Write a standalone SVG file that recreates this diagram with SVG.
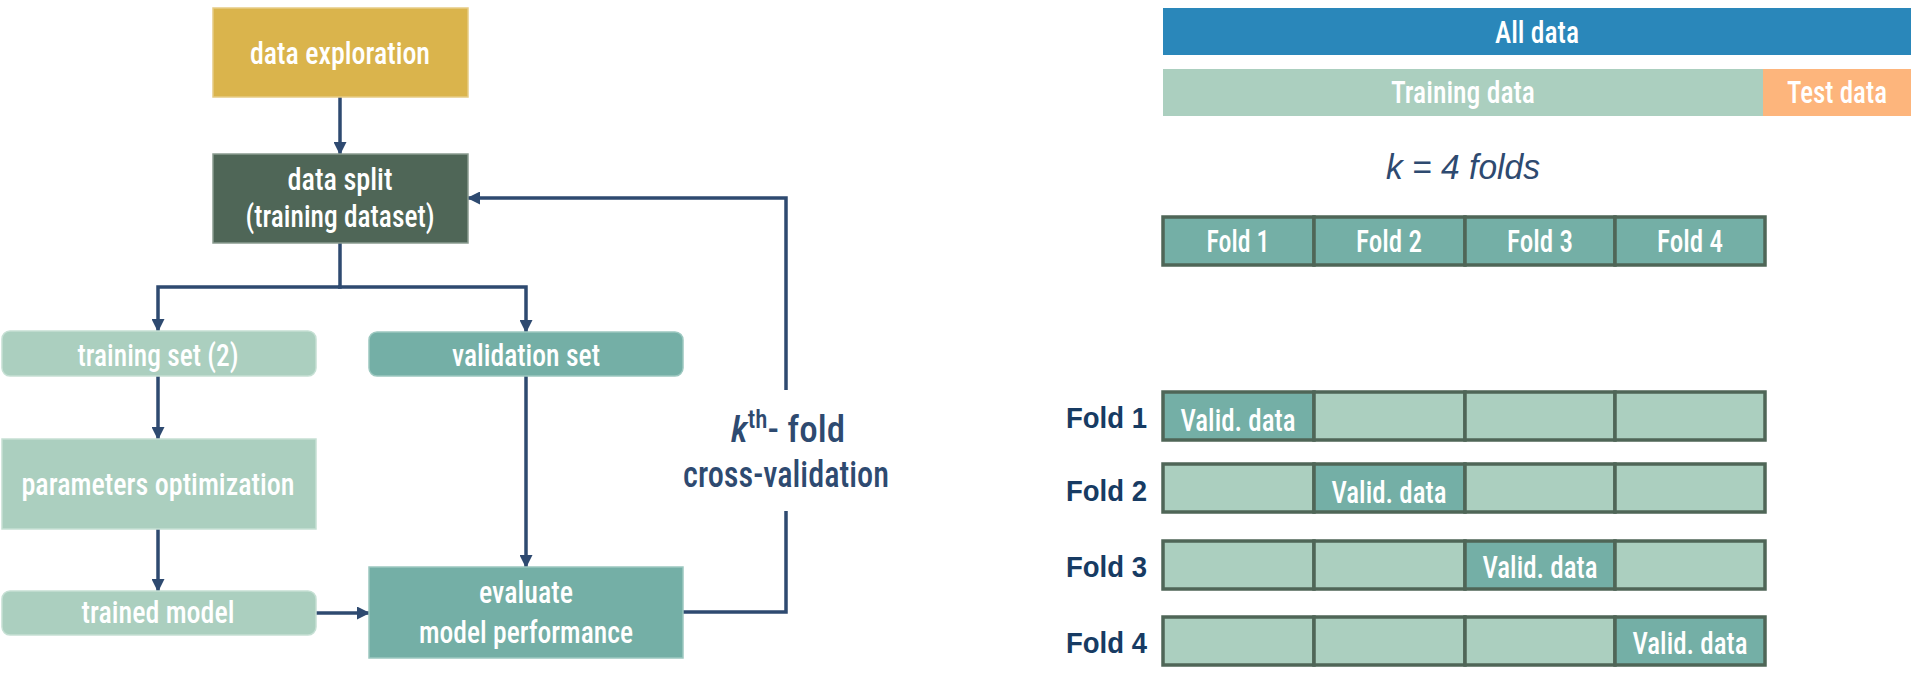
<svg xmlns="http://www.w3.org/2000/svg" width="1914" height="685" viewBox="0 0 1914 685">
<style>
.lbl{font-family:"Liberation Sans Narrow","Roboto Condensed",Roboto,"Liberation Sans",sans-serif;font-weight:500;fill:#ffffff;font-size:31px;text-anchor:middle}
.conn{fill:none;stroke:#2E4A70;stroke-width:3.5}
.gold{fill:#DAB44C;stroke:#E6CC85;stroke-width:1.5}
.dark{fill:#4F6657;stroke:#8A9C90;stroke-width:1.5}
.light{fill:#ABCFBF;stroke:#C6E0D4;stroke-width:1.5}
.mid{fill:#74AFA6;stroke:#9CC8C0;stroke-width:1.5}
.cellL{fill:#ABCFBF;stroke:#4F6657;stroke-width:3.5}
.cellV{fill:#74AFA6;stroke:#4F6657;stroke-width:3.5}
.navy{font-family:"Liberation Sans",Arial,sans-serif;font-weight:bold;fill:#173B63;font-size:29px}
.cv{font-family:"Liberation Sans Narrow","Roboto Condensed",Roboto,"Liberation Sans",sans-serif;font-weight:500;fill:#2E4A70;font-size:37px;text-anchor:middle}
</style>
<defs>
<marker id="ah" markerUnits="userSpaceOnUse" markerWidth="13" markerHeight="13" refX="12" refY="6.5" orient="auto">
<path d="M0,0 L13,6.5 L0,13 z" fill="#2E4A70"/>
</marker>
</defs>
<rect width="1914" height="685" fill="#ffffff"/>

<g id="connectors">
<path class="conn" d="M340,97 V154" marker-end="url(#ah)"/>
<path class="conn" d="M340,243 V287 H158 V331" marker-end="url(#ah)"/>
<path class="conn" d="M338,287 H526 V332" marker-end="url(#ah)"/>
<path class="conn" d="M158,376 V439" marker-end="url(#ah)"/>
<path class="conn" d="M158,529 V591" marker-end="url(#ah)"/>
<path class="conn" d="M316,613 H369" marker-end="url(#ah)"/>
<path class="conn" d="M526,376 V567" marker-end="url(#ah)"/>
<path class="conn" d="M683,612 H786 V511"/>
<path class="conn" d="M786,390 V198 H468" marker-end="url(#ah)"/>
</g>

<g id="loop-label">
<text class="cv" x="788" y="442" font-size="40"><tspan font-style="italic">k</tspan><tspan dy="-14" font-size="25">th</tspan><tspan dy="14">- fold</tspan></text>
<text class="cv" x="786" y="487" textLength="206" lengthAdjust="spacingAndGlyphs">cross-validation</text>
</g>

<g id="data-exploration">
<rect class="gold" x="213" y="8" width="255" height="89"/>
<text class="lbl" x="340" y="64" textLength="180" lengthAdjust="spacingAndGlyphs">data exploration</text>
</g>
<g id="data-split">
<rect class="dark" x="213" y="154" width="255" height="89"/>
<text class="lbl" x="340" y="190" textLength="105" lengthAdjust="spacingAndGlyphs">data split</text>
<text class="lbl" x="340" y="227" textLength="189" lengthAdjust="spacingAndGlyphs">(training dataset)</text>
</g>
<g id="training-set">
<rect class="light" x="2" y="331" width="314" height="45" rx="8"/>
<text class="lbl" x="158" y="366" textLength="161" lengthAdjust="spacingAndGlyphs">training set (2)</text>
</g>
<g id="validation-set">
<rect class="mid" x="369" y="332" width="314" height="44" rx="8"/>
<text class="lbl" x="526" y="366" textLength="148" lengthAdjust="spacingAndGlyphs">validation set</text>
</g>
<g id="parameters-optimization">
<rect class="light" x="2" y="439" width="314" height="90"/>
<text class="lbl" x="158" y="495" textLength="273" lengthAdjust="spacingAndGlyphs">parameters optimization</text>
</g>
<g id="trained-model">
<rect class="light" x="2" y="591" width="314" height="44" rx="8"/>
<text class="lbl" x="158" y="623" textLength="153" lengthAdjust="spacingAndGlyphs">trained model</text>
</g>
<g id="evaluate">
<rect class="mid" x="369" y="567" width="314" height="91"/>
<text class="lbl" x="526" y="603" textLength="94" lengthAdjust="spacingAndGlyphs">evaluate</text>
<text class="lbl" x="526" y="643" textLength="214" lengthAdjust="spacingAndGlyphs">model performance</text>
</g>

<g id="all-data">
<rect x="1163" y="8" width="748" height="47" fill="#2A87BA"/>
<text class="lbl" x="1537" y="43" textLength="84" lengthAdjust="spacingAndGlyphs">All data</text>
</g>
<g id="training-data">
<rect x="1163" y="69" width="600" height="47" fill="#ABCFBF"/>
<text class="lbl" x="1463" y="103" textLength="144" lengthAdjust="spacingAndGlyphs">Training data</text>
</g>
<g id="test-data">
<rect x="1763" y="69" width="148" height="47" fill="#FDB57C"/>
<text class="lbl" x="1837" y="103" textLength="100" lengthAdjust="spacingAndGlyphs">Test data</text>
</g>
<g id="k-folds">
<text x="1463" y="179" font-family="Liberation Sans,Arial,sans-serif" font-style="italic" font-size="35" fill="#2E4A70" text-anchor="middle" textLength="154" lengthAdjust="spacingAndGlyphs">k = 4 folds</text>
</g>

<g id="folds">
<rect class="cellV" x="1163" y="217" width="151" height="48"/>
<rect class="cellV" x="1314" y="217" width="151" height="48"/>
<rect class="cellV" x="1465" y="217" width="150" height="48"/>
<rect class="cellV" x="1615" y="217" width="150" height="48"/>
<text class="lbl" x="1238" y="252" font-size="33" textLength="63" lengthAdjust="spacingAndGlyphs">Fold 1</text>
<text class="lbl" x="1389" y="252" font-size="33" textLength="66" lengthAdjust="spacingAndGlyphs">Fold 2</text>
<text class="lbl" x="1540" y="252" font-size="33" textLength="66" lengthAdjust="spacingAndGlyphs">Fold 3</text>
<text class="lbl" x="1690" y="252" font-size="33" textLength="66" lengthAdjust="spacingAndGlyphs">Fold 4</text>
</g>

<g id="row-fold-1">
<text class="navy" x="1066" y="428" textLength="81" lengthAdjust="spacingAndGlyphs">Fold 1</text>
<rect class="cellV" x="1163" y="392" width="151" height="48"/>
<rect class="cellL" x="1314" y="392" width="151" height="48"/>
<rect class="cellL" x="1465" y="392" width="150" height="48"/>
<rect class="cellL" x="1615" y="392" width="150" height="48"/>
<text class="lbl" x="1238" y="431" font-size="32" textLength="115" lengthAdjust="spacingAndGlyphs">Valid. data</text>
</g>
<g id="row-fold-2">
<text class="navy" x="1066" y="501" textLength="81" lengthAdjust="spacingAndGlyphs">Fold 2</text>
<rect class="cellL" x="1163" y="464" width="151" height="48"/>
<rect class="cellV" x="1314" y="464" width="151" height="48"/>
<rect class="cellL" x="1465" y="464" width="150" height="48"/>
<rect class="cellL" x="1615" y="464" width="150" height="48"/>
<text class="lbl" x="1389" y="503" font-size="32" textLength="115" lengthAdjust="spacingAndGlyphs">Valid. data</text>
</g>
<g id="row-fold-3">
<text class="navy" x="1066" y="577" textLength="81" lengthAdjust="spacingAndGlyphs">Fold 3</text>
<rect class="cellL" x="1163" y="541" width="151" height="48"/>
<rect class="cellL" x="1314" y="541" width="151" height="48"/>
<rect class="cellV" x="1465" y="541" width="150" height="48"/>
<rect class="cellL" x="1615" y="541" width="150" height="48"/>
<text class="lbl" x="1540" y="578" font-size="32" textLength="115" lengthAdjust="spacingAndGlyphs">Valid. data</text>
</g>
<g id="row-fold-4">
<text class="navy" x="1066" y="653" textLength="81" lengthAdjust="spacingAndGlyphs">Fold 4</text>
<rect class="cellL" x="1163" y="617" width="151" height="48"/>
<rect class="cellL" x="1314" y="617" width="151" height="48"/>
<rect class="cellL" x="1465" y="617" width="150" height="48"/>
<rect class="cellV" x="1615" y="617" width="150" height="48"/>
<text class="lbl" x="1690" y="654" font-size="32" textLength="115" lengthAdjust="spacingAndGlyphs">Valid. data</text>
</g>
</svg>
